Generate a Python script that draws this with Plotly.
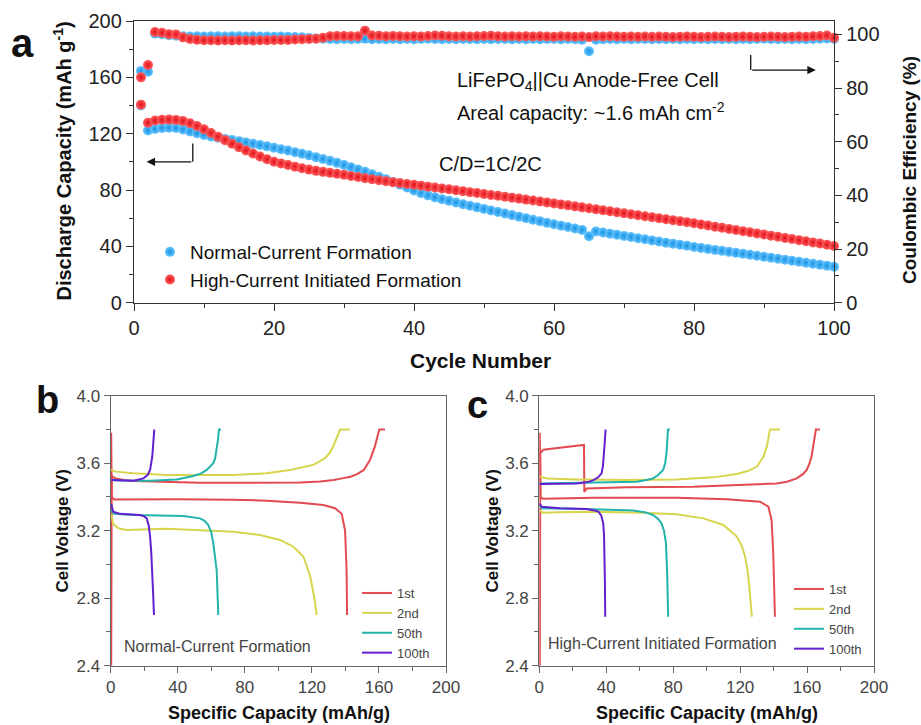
import plotly.graph_objects as go

W, H = 921, 725


def px(x):
    return x / W


def py(y):
    return 1 - y / H


# ---------------- Panel a data ----------------
cycles = list(range(1, 101))

cap_normal = [
    140.0, 122.3, 123.4, 124.0, 124.2, 124.0, 123.0, 121.6, 120.3, 119.1,
    118.0, 117.1, 116.3, 115.5, 114.7, 113.8, 112.9, 112.0, 111.0, 110.0,
    109.0, 108.0, 106.9, 105.8, 104.6, 103.3, 102.0, 100.7, 99.3, 97.8,
    96.2, 94.6, 92.9, 91.2, 89.4, 87.6, 85.7, 83.8, 81.8, 79.7,
    77.8, 76.2, 74.8, 73.5, 72.3, 71.1, 69.9, 68.8, 67.7, 66.6,
    65.5, 64.4, 63.3, 62.2, 61.1, 60.0, 58.9, 57.8, 56.7, 55.7,
    54.7, 53.7, 52.7, 51.7, 47.2, 50.6, 49.8, 49.0, 48.2, 47.4,
    46.6, 45.8, 45.0, 44.2, 43.4, 42.6, 41.9, 41.1, 40.4, 39.6,
    38.9, 38.2, 37.5, 36.8, 36.1, 35.4, 34.7, 34.0, 33.3, 32.6,
    31.9, 31.2, 30.5, 29.8, 29.1, 28.4, 27.7, 27.0, 26.3, 25.6,
]

cap_high = [
    140.6, 127.8, 129.3, 129.9, 130.0, 129.8, 129.0, 127.4, 125.5, 123.2,
    120.5, 117.8, 115.4, 112.9, 110.4, 108.1, 105.9, 103.8, 101.9, 100.1,
    98.9, 97.8, 96.6, 95.5, 94.5, 93.6, 92.9, 92.2, 91.5, 90.8,
    90.0, 89.2, 88.4, 87.7, 87.0, 86.3, 85.6, 84.9, 84.3, 83.7,
    83.1, 82.4, 81.8, 81.1, 80.5, 79.8, 79.2, 78.5, 77.9, 77.2,
    76.5, 75.9, 75.2, 74.6, 73.9, 73.2, 72.6, 71.9, 71.2, 70.5,
    69.8, 69.1, 68.4, 67.7, 67.0, 66.3, 65.6, 64.9, 64.2, 63.5,
    62.8, 62.1, 61.4, 60.7, 60.0, 59.3, 58.6, 57.9, 57.2, 56.4,
    55.6, 54.8, 54.0, 53.2, 52.4, 51.6, 50.8, 50.0, 49.2, 48.4,
    47.6, 46.8, 46.0, 45.2, 44.4, 43.6, 42.8, 42.0, 41.2, 40.2,
]

ce_normal = [
    86.4, 86.1, 100.3, 100.1, 99.7, 99.5, 99.3, 99.2, 99.3, 99.2,
    99.3, 99.3, 99.2, 99.3, 99.3, 99.2, 99.3, 99.2, 99.2, 99.1,
    99.2, 99.1, 99.0, 98.9, 98.7, 98.5, 98.4, 98.3, 98.2, 98.3,
    98.2, 98.3, 98.4, 98.2, 98.3, 98.2, 98.3, 98.2, 98.3, 98.2,
    98.3, 98.4, 98.3, 98.2, 98.3, 98.2, 98.3, 98.3, 98.2, 98.3,
    98.2, 98.3, 98.3, 98.2, 98.3, 98.2, 98.3, 98.2, 98.3, 98.3,
    98.2, 98.3, 98.2, 98.0, 93.7, 98.0, 98.2, 98.3, 98.2, 98.3,
    98.2, 98.3, 98.3, 98.2, 98.3, 98.2, 98.3, 98.2, 98.3, 98.2,
    98.3, 98.2, 98.3, 98.2, 98.3, 98.2, 98.3, 98.2, 98.3, 98.4,
    98.3, 98.2, 98.3, 98.2, 98.3, 98.2, 98.3, 98.4, 98.5, 98.3,
]

ce_high = [
    84.0, 88.6, 100.9, 100.6, 100.1, 100.0, 98.9, 98.3, 98.0, 97.8,
    97.8, 97.7, 97.8, 97.7, 97.8, 97.8, 97.7, 97.8, 97.8, 97.9,
    97.9, 97.9, 98.1, 98.2, 98.3, 98.4, 98.8, 99.3, 99.4, 99.4,
    99.3, 99.3, 101.4, 99.6, 99.5, 99.3, 99.4, 99.3, 99.2, 99.3,
    99.2, 99.4, 99.6, 99.5, 99.3, 99.2, 99.3, 99.2, 99.3, 99.4,
    99.5, 99.3, 99.2, 99.3, 99.2, 99.3, 99.2, 99.3, 99.2, 99.1,
    99.3, 99.2, 99.1, 99.2, 99.0, 99.3, 99.2, 99.3, 99.2, 99.1,
    99.2, 99.1, 99.2, 99.1, 99.2, 99.1, 99.0, 99.1, 99.2, 99.1,
    99.0, 99.1, 99.2, 99.1, 99.0, 99.1, 99.2, 99.1, 99.0, 99.1,
    99.2, 99.1, 99.0, 99.1, 99.2, 99.1, 99.3, 99.4, 99.6, 98.8,
]

# ---------------- Panel b data (Normal-Current Formation) ----------------
nc_c1_chg_q = [0.3, 0.6, 1.0, 3, 8, 13.5, 30, 53, 80, 113, 125, 133, 138, 143, 147, 151, 154.7, 157.6, 160.2, 163.6]
nc_c1_chg_v = [2.40, 3.53, 3.52, 3.51, 3.50, 3.494, 3.488, 3.484, 3.484, 3.486, 3.492, 3.50, 3.51, 3.52, 3.535, 3.56, 3.62, 3.70, 3.80, 3.80]
nc_c1_dis_q = [0.3, 0.6, 2, 13.5, 40, 73, 93, 113, 126.8, 133.8, 137.8, 139.8, 140.7, 141.0]
nc_c1_dis_v = [3.78, 3.40, 3.385, 3.386, 3.386, 3.384, 3.378, 3.366, 3.352, 3.333, 3.30, 3.20, 2.97, 2.70]

nc_c2_chg_q = [0.2, 3, 13.5, 33.4, 73.2, 93, 107, 115, 120.9, 124.5, 127.8, 130.5, 132.8, 134.8, 136.8, 142.7]
nc_c2_chg_v = [3.56, 3.55, 3.54, 3.53, 3.53, 3.54, 3.56, 3.575, 3.59, 3.61, 3.63, 3.66, 3.70, 3.75, 3.80, 3.80]
nc_c2_dis_q = [0.2, 1.5, 4.6, 9.5, 33.4, 53, 73, 89, 101, 109, 115, 119, 121.3, 122.9]
nc_c2_dis_v = [3.30, 3.24, 3.214, 3.204, 3.212, 3.204, 3.194, 3.175, 3.145, 3.105, 3.046, 2.93, 2.81, 2.70]

nc_c50_chg_q = [0.3, 5, 23.5, 39.4, 49.3, 54, 57.3, 59.5, 61.2, 62.3, 63.2, 64.0, 64.6, 65.8]
nc_c50_chg_v = [3.50, 3.497, 3.496, 3.504, 3.524, 3.54, 3.56, 3.58, 3.60, 3.63, 3.68, 3.74, 3.80, 3.80]
nc_c50_dis_q = [0.3, 2, 13.5, 30, 43.3, 53.3, 56, 58.2, 60, 61.2, 62.3, 63.2, 64.2]
nc_c50_dis_v = [3.32, 3.30, 3.293, 3.29, 3.287, 3.273, 3.258, 3.234, 3.19, 3.125, 3.05, 2.967, 2.70]

nc_c100_chg_q = [0.3, 5, 13.5, 19.5, 22, 23.5, 24.3, 24.8, 25.4, 26.0]
nc_c100_chg_v = [3.50, 3.497, 3.496, 3.51, 3.53, 3.56, 3.60, 3.64, 3.72, 3.80]
nc_c100_dis_q = [0.3, 1.5, 5.6, 17.5, 20, 21.5, 22.7, 23.5, 24.2, 24.8, 25.3, 25.8]
nc_c100_dis_v = [3.36, 3.313, 3.30, 3.293, 3.285, 3.273, 3.23, 3.165, 3.07, 2.967, 2.83, 2.70]

# ---------------- Panel c data (High-Current Initiated Formation) ----------------
hc_c1_chg_q = [0.3, 0.6, 2.4, 12.4, 22.3, 26.7, 26.9, 28.3, 52.2, 92, 122, 141.8, 148, 153.8, 157.5, 159.8, 161.5, 162.7, 164, 165.3, 167.7]
hc_c1_chg_v = [2.40, 3.66, 3.68, 3.694, 3.704, 3.708, 3.43, 3.45, 3.457, 3.46, 3.47, 3.48, 3.49, 3.51, 3.535, 3.56, 3.60, 3.64, 3.72, 3.80, 3.80]
hc_c1_dis_q = [0.3, 0.8, 2, 32.3, 82, 112, 131.9, 136.9, 138.8, 139.8, 140.8]
hc_c1_dis_v = [3.78, 3.40, 3.39, 3.395, 3.395, 3.386, 3.372, 3.342, 3.263, 3.066, 2.69]

hc_c2_chg_q = [0.2, 5, 22.3, 52, 82, 104, 118, 125, 130, 132.2, 134, 136, 137.8, 143.8]
hc_c2_chg_v = [3.52, 3.51, 3.504, 3.50, 3.504, 3.516, 3.536, 3.555, 3.58, 3.61, 3.64, 3.70, 3.80, 3.80]
hc_c2_dis_q = [0.2, 2, 12, 32.3, 62, 82, 98, 110, 118, 121, 123, 124.5, 125.5, 127]
hc_c2_dis_v = [3.32, 3.307, 3.31, 3.313, 3.307, 3.297, 3.273, 3.234, 3.165, 3.11, 3.046, 2.96, 2.868, 2.69]

hc_c50_chg_q = [0.2, 10, 32.3, 58.2, 64, 68, 71, 74, 75.2, 76, 76.9, 78]
hc_c50_chg_v = [3.48, 3.482, 3.484, 3.49, 3.50, 3.51, 3.53, 3.56, 3.60, 3.66, 3.80, 3.80]
hc_c50_dis_q = [0.3, 1.5, 32.3, 56.2, 63, 68, 71, 73, 74.5, 75.7, 76.4, 77]
hc_c50_dis_v = [3.35, 3.333, 3.327, 3.319, 3.31, 3.293, 3.27, 3.244, 3.20, 3.125, 2.95, 2.69]

hc_c100_chg_q = [0.2, 10, 22.3, 29, 32.3, 35, 37.2, 38.0, 38.6, 39.1, 39.6]
hc_c100_chg_v = [3.477, 3.478, 3.48, 3.488, 3.50, 3.515, 3.54, 3.58, 3.64, 3.72, 3.80]
hc_c100_dis_q = [0.2, 1.5, 12.4, 28.3, 33, 35.3, 37, 38.2, 38.7, 39.0, 39.2, 39.4]
hc_c100_dis_v = [3.36, 3.342, 3.333, 3.328, 3.32, 3.313, 3.29, 3.244, 3.17, 3.066, 2.9, 2.69]

cycle_labels = ["1st", "2nd", "50th", "100th"]
cycle_colors = ["#e34a4f", "#d8d44c", "#22b3aa", "#6420d0"]

FONT = "Liberation Sans, Arial, sans-serif"
BLUE = "#1893e2"
RED = "#e0101a"

fig = go.Figure()


def sphere(center, edge):
    return dict(size=10, color=center, line=dict(width=0),
                gradient=dict(type="radial", color=edge))


BLUE_C = "#66c4ff"
RED_C = "#ff5f5f"

# ---- Panel a traces ----
fig.add_trace(go.Scatter(x=cycles, y=cap_normal, mode="markers", name="Normal-Current Formation",
                         marker=sphere(BLUE_C, BLUE), legend="legend",
                         xaxis="x", yaxis="y", cliponaxis=False))
fig.add_trace(go.Scatter(x=cycles, y=ce_normal, mode="markers", name="Normal-Current Formation",
                         marker=sphere(BLUE_C, BLUE), showlegend=False,
                         xaxis="x", yaxis="y2", cliponaxis=False))
fig.add_trace(go.Scatter(x=cycles, y=cap_high, mode="markers", name="High-Current Initiated Formation",
                         marker=sphere(RED_C, RED), legend="legend",
                         xaxis="x", yaxis="y", cliponaxis=False))
fig.add_trace(go.Scatter(x=cycles, y=ce_high, mode="markers", name="High-Current Initiated Formation",
                         marker=sphere(RED_C, RED), showlegend=False,
                         xaxis="x", yaxis="y2", cliponaxis=False))

# ---- Panel b/c traces ----
nc_curves = [
    (nc_c1_chg_q, nc_c1_chg_v, nc_c1_dis_q, nc_c1_dis_v),
    (nc_c2_chg_q, nc_c2_chg_v, nc_c2_dis_q, nc_c2_dis_v),
    (nc_c50_chg_q, nc_c50_chg_v, nc_c50_dis_q, nc_c50_dis_v),
    (nc_c100_chg_q, nc_c100_chg_v, nc_c100_dis_q, nc_c100_dis_v),
]
hc_curves = [
    (hc_c1_chg_q, hc_c1_chg_v, hc_c1_dis_q, hc_c1_dis_v),
    (hc_c2_chg_q, hc_c2_chg_v, hc_c2_dis_q, hc_c2_dis_v),
    (hc_c50_chg_q, hc_c50_chg_v, hc_c50_dis_q, hc_c50_dis_v),
    (hc_c100_chg_q, hc_c100_chg_v, hc_c100_dis_q, hc_c100_dis_v),
]
for curves, xa, ya, lg in [(nc_curves, "x3", "y3", "legend2"), (hc_curves, "x4", "y4", "legend3")]:
    for (cq, cv, dq, dv), lab, col in zip(curves, cycle_labels, cycle_colors):
        fig.add_trace(go.Scatter(x=cq + [None] + dq, y=cv + [None] + dv, mode="lines", name=lab,
                                 line=dict(color=col, width=2), xaxis=xa, yaxis=ya, legend=lg))

AX = "#333333"
tickfont_a = dict(family=FONT, size=20, color="#222")
tickfont_b = dict(family=FONT, size=17, color="#444")

common_a = dict(showline=True, linecolor=AX, linewidth=1.3, ticks="outside", ticklen=7,
                tickwidth=1.3, tickcolor=AX, showgrid=False, zeroline=False, tickfont=tickfont_a)
common_b = dict(showline=True, linecolor="#666", linewidth=1.2, ticks="outside", ticklen=6,
                tickwidth=1.1, tickcolor="#666", showgrid=False, zeroline=False, tickfont=tickfont_b)

fig.update_layout(
    width=W, height=H, autosize=False,
    margin=dict(l=0, r=0, t=0, b=0, pad=0, autoexpand=False),
    paper_bgcolor="white", plot_bgcolor="white",
    font=dict(family=FONT, color="#111"),
    xaxis=dict(domain=[px(134), px(834)], range=[0, 100], anchor="y", dtick=20, tick0=0,
               mirror=True, minor=dict(dtick=10, ticks="outside", ticklen=4, tickcolor=AX), **common_a),
    yaxis=dict(domain=[py(302.7), py(21)], range=[0, 200], anchor="x", dtick=40, tick0=0,
               minor=dict(dtick=20, ticks="outside", ticklen=4, tickcolor=AX), **common_a),
    yaxis2=dict(overlaying="y", side="right", range=[0, 105], anchor="x", dtick=20, tick0=0,
                minor=dict(dtick=10, ticks="outside", ticklen=4, tickcolor=AX), **common_a),
    xaxis3=dict(domain=[px(110.7), px(446)], range=[0, 200], anchor="y3", dtick=40, tick0=0,
                mirror=True, minor=dict(dtick=20, ticks="outside", ticklen=4, tickcolor="#666"), **common_b),
    yaxis3=dict(domain=[py(665.7), py(395.7)], range=[2.4, 4.0], anchor="x3", dtick=0.4, tick0=2.4,
                tickformat=".1f", mirror=True,
                minor=dict(dtick=0.2, ticks="outside", ticklen=4, tickcolor="#666"), **common_b),
    xaxis4=dict(domain=[px(539.3), px(874)], range=[0, 200], anchor="y4", dtick=40, tick0=0,
                mirror=True, minor=dict(dtick=20, ticks="outside", ticklen=4, tickcolor="#666"), **common_b),
    yaxis4=dict(domain=[py(665.7), py(395.7)], range=[2.4, 4.0], anchor="x4", dtick=0.4, tick0=2.4,
                tickformat=".1f", mirror=True,
                minor=dict(dtick=0.2, ticks="outside", ticklen=4, tickcolor="#666"), **common_b),
    legend=dict(x=px(150), y=py(233), xanchor="left", yanchor="top", bgcolor="rgba(0,0,0,0)",
                font=dict(family=FONT, size=19, color="#111"), itemsizing="trace", tracegroupgap=0),
    legend2=dict(x=px(357), y=py(578), xanchor="left", yanchor="top", bgcolor="rgba(0,0,0,0)",
                 font=dict(family=FONT, size=13, color="#444"), tracegroupgap=0),
    legend3=dict(x=px(789), y=py(574), xanchor="left", yanchor="top", bgcolor="rgba(0,0,0,0)",
                 font=dict(family=FONT, size=13, color="#444"), tracegroupgap=0),
    showlegend=True,
)

# ---- arrows in panel a ----
fig.add_shape(type="line", xref="x", yref="y", x0=8.4, x1=8.4, y0=113, y1=100,
              line=dict(color="#111", width=1.3))
fig.add_annotation(xref="x", yref="y", axref="x", ayref="y", x=1.8, y=100, ax=8.4, ay=100,
                   showarrow=True, arrowhead=2, arrowsize=1.3, arrowwidth=1.3, arrowcolor="#111", text="")
fig.add_shape(type="line", xref="x", yref="y2", x0=88.1, x1=88.1, y0=92.3, y1=86.7,
              line=dict(color="#111", width=1.3))
fig.add_annotation(xref="x", yref="y2", axref="x", ayref="y2", x=97.4, y=86.7, ax=88.1, ay=86.7,
                   showarrow=True, arrowhead=2, arrowsize=1.3, arrowwidth=1.3, arrowcolor="#111", text="")


# ---- text annotations ----
def ann(x, y, text, size, bold=False, xanchor="center", yanchor="middle", angle=0, color="#111"):
    t = f"<b>{text}</b>" if bold else text
    fig.add_annotation(xref="paper", yref="paper", x=px(x), y=py(y), text=t, showarrow=False,
                       xanchor=xanchor, yanchor=yanchor, textangle=angle,
                       font=dict(family=FONT, size=size, color=color))


ann(455, 81, "LiFePO<sub>4</sub>||Cu Anode-Free Cell", 20, xanchor="left")
ann(455, 112, "Areal capacity: ~1.6 mAh cm<sup>-2</sup>", 20, xanchor="left")
ann(437, 164, "C/D=1C/2C", 20, xanchor="left")

ann(61.5, 161, "Discharge Capacity (mAh g<sup>-1</sup>)", 20, bold=True, angle=-90)
ann(909, 170, "Coulombic Efficiency (%)", 19, bold=True, angle=-90)
ann(480, 361, "Cycle Number", 21, bold=True)

ann(61.5, 531, "Cell Voltage (V)", 17, bold=True, angle=-90)
ann(279, 713, "Specific Capacity (mAh/g)", 18, bold=True)
ann(491.5, 531, "Cell Voltage (V)", 17, bold=True, angle=-90)
ann(707, 713, "Specific Capacity (mAh/g)", 18, bold=True)

ann(122, 646.5, "Normal-Current Formation", 16, xanchor="left", color="#444")
ann(546, 643.5, "High-Current Initiated Formation", 16, xanchor="left", color="#444")

ann(22, 43, "a", 40, bold=True)
ann(47, 400, "b", 38, bold=True)
ann(477, 405, "c", 38, bold=True)

fig.write_html("out.html")
